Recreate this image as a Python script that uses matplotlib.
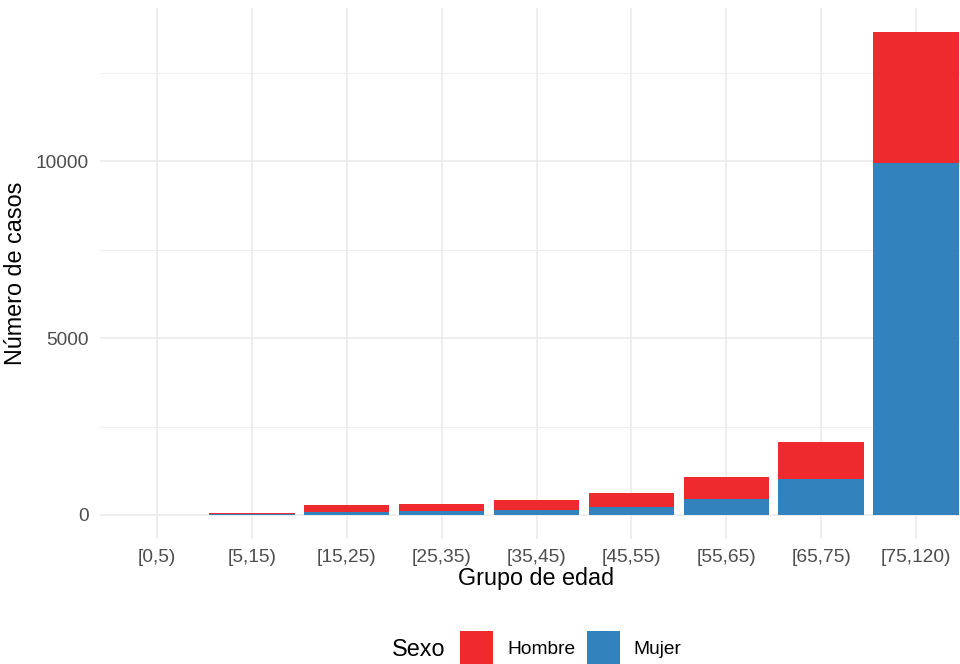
import numpy as np
import matplotlib
matplotlib.use('Agg')
import matplotlib.pyplot as plt
from matplotlib.patches import Rectangle

plt.rcParams['font.family'] = ['Liberation Sans', 'DejaVu Sans']

# data
grupos = ['[0,5)', '[5,15)', '[15,25)', '[25,35)', '[35,45)',
          '[45,55)', '[55,65)', '[65,75)', '[75,120)']
mujer = [2, 25, 80, 110, 145, 230, 462, 1010, 9960]
hombre = [8, 30, 195, 195, 275, 378, 623, 1048, 3700]
sexo = ['Hombre', 'Mujer']
colores = {'Hombre': '#EE2A2E', 'Mujer': '#3182BD'}

W, H = 960, 664
fig = plt.figure(figsize=(W / 100, H / 100), dpi=100)
# panel goes a bit past the right edge, like the reference crop
ax = fig.add_axes([100 / W, (H - 539) / H, 873 / W, 531 / H])

x = np.arange(len(grupos))
ax.bar(x, mujer, width=0.9, color=colores['Mujer'], zorder=3)
ax.bar(x, hombre, width=0.9, bottom=mujer, color=colores['Hombre'], zorder=3)

total = max(np.array(mujer) + np.array(hombre))
ax.set_xlim(-0.6, len(grupos) - 1 + 0.6)
ax.set_ylim(-0.05 * total, 1.05 * total)

ax.set_xticks(x)
ax.set_xticklabels(grupos)
ax.set_yticks([0, 5000, 10000])
ax.set_yticks([2500, 7500, 12500], minor=True)
ax.tick_params(axis='both', which='both', length=0, labelsize=13.8,
               labelcolor='#4D4D4D')
ax.tick_params(axis='x', pad=7)
ax.tick_params(axis='y', pad=8)

ax.grid(True, which='major', color='#EBEBEB', linewidth=1.2, zorder=0)
ax.grid(True, which='minor', axis='y', color='#EBEBEB', linewidth=0.6, zorder=0)
for s in ax.spines.values():
    s.set_visible(False)

ax.set_xlabel('Grupo de edad', fontsize=16.8, labelpad=1)
ax.set_ylabel('Número de casos', fontsize=16.8, labelpad=6)

# legend at the bottom, drawn by hand
fig.text(392 / W, 1 - 649 / H, 'Sexo', fontsize=16.8, va='center', ha='left')
for nombre, x0, xt in [('Hombre', 460, 507), ('Mujer', 587, 633)]:
    fig.patches.append(Rectangle((x0 / W, 1 - 666 / H), 33 / W, 35 / H,
                                 transform=fig.transFigure,
                                 facecolor=colores[nombre], edgecolor='none'))
    fig.text(xt / W, 1 - 649 / H, nombre, fontsize=13.8, va='center', ha='left')

fig.savefig('out.png', dpi=100)
